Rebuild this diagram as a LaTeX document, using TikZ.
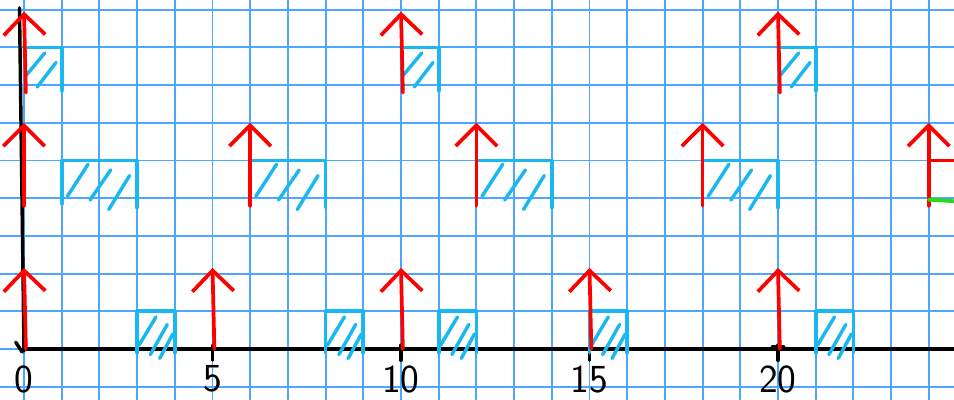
\documentclass[tikz,border=0pt]{standalone}
\usepackage{tikz}
\usetikzlibrary{arrows.meta}

\definecolor{gridblue}{RGB}{77,166,255}
\definecolor{jobcyan}{RGB}{26,184,240}
\definecolor{penred}{RGB}{255,0,0}
\definecolor{pengreen}{RGB}{40,220,20}

\begin{document}
\begin{tikzpicture}[
        line cap=round,
        line join=round,
        gridline/.style={draw=gridblue, line width=1.45pt},
        axisline/.style={draw=black, line width=2.6pt},
        release/.style={
            draw=penred,
            line width=2.8pt,
            -{Straight Barb[length=5.5mm, width=11mm, line width=2.8pt]}
        },
        jobbox/.style={draw=jobcyan, line width=2.8pt},
        hatch/.style={draw=jobcyan, line width=2.6pt},
        ticklabel/.style={font=\sffamily\fontsize{30}{30}\selectfont, inner sep=0pt}
    ]

    % paper
    \fill[white] (-0.637,-1.353) rectangle (24.67,9.257);
    \useasboundingbox (-0.637,-1.353) rectangle (24.67,9.257);
    \draw[gridline, step=1] (-0.637,-1.353) grid (24.67,9.257);

    % axes
    \draw[axisline] (0,0) -- (24.67,0);
    \draw[axisline] (0,-0.05) -- (-0.12,9.05);
    \draw[axisline] (-0.22,0.18) -- (-0.05,-0.08);
    \foreach \x in {5,10,15,20}
        \draw[axisline] (\x,0.1) -- (\x,-0.3);
    \draw[axisline] (19.85,0.05) -- (20.15,0.05);

    \foreach \x in {0,5,10,15,20}
        \node (lab\x) [ticklabel] at (\x,-0.8) {\x};

    % bottom task: period 5
    \foreach \x in {3,8,11,15,21} {
        \draw[jobbox] (\x,-0.1) -- (\x,1) -- (\x+1,1) -- (\x+1,-0.1);
        \draw[hatch] (\x+0.05,0.1) -- (\x+0.5,0.85);
        \draw[hatch] (\x+0.35,-0.15) -- (\x+0.8,0.65);
        \draw[hatch] (\x+0.6,-0.25) -- (\x+0.95,0.4);
    }
    \foreach \x in {0,5,10,15,20}
        \draw[release] (\x+0.05,0) -- (\x,2.15);

    % middle task: period 6
    \foreach \x in {1,6,12,18} {
        \draw[jobbox] (\x,3.85) -- (\x,5) -- (\x+2,5) -- (\x+2,3.75);
        \draw[hatch] (\x+0.15,4.05) -- (\x+0.7,4.9);
        \draw[hatch] (\x+0.75,3.95) -- (\x+1.3,4.75);
        \draw[hatch] (\x+1.25,3.7) -- (\x+1.8,4.6);
    }
    \foreach \x in {0,6,12,18,24}
        \draw[release] (\x,3.8) -- (\x,6.0);
    \draw[draw=penred, line width=2.8pt] (24,5) -- (24.67,5);
    \draw[draw=pengreen, line width=2.8pt] (24,3.96) -- (24.67,3.92);

    % top task: period 10
    \foreach \x in {0,10,20} {
        \draw[jobbox] (\x,8) -- (\x+1,8) -- (\x+1,6.85);
        \draw[hatch] (\x+0.05,7.25) -- (\x+0.55,7.85);
        \draw[hatch] (\x+0.35,6.95) -- (\x+0.85,7.6);
    }
    \foreach \x in {0,10,20}
        \draw[release] (\x+0.05,6.8) -- (\x,8.95);

\end{tikzpicture}
\end{document}
